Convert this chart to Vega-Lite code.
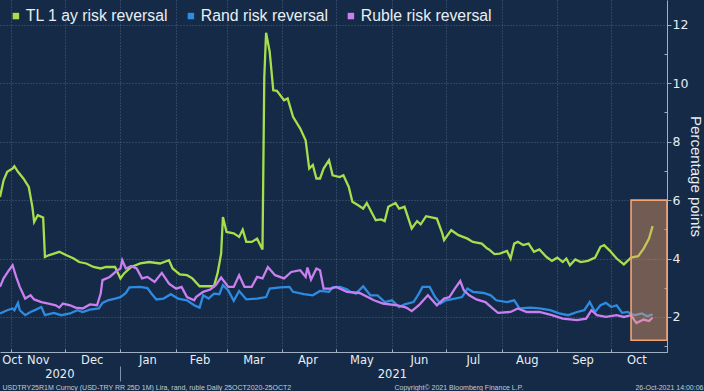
{
  "$schema": "https://vega.github.io/schema/vega-lite/v6.json",
  "width": 667,
  "height": 352,
  "autosize": {"type": "none"},
  "padding": {"left": 0, "top": 0, "right": 37, "bottom": 39},
  "background": "#142a46",
  "config": {"view": {"stroke": null}, "font": "Liberation Sans"},
  "datasets": {
    "tl": [
      {"date": "2020-10-26", "value": 6.11}, {"date": "2020-10-28", "value": 6.68}, {"date": "2020-10-30", "value": 6.97},
      {"date": "2020-11-02", "value": 7.08}, {"date": "2020-11-03", "value": 7.16}, {"date": "2020-11-05", "value": 6.97},
      {"date": "2020-11-08", "value": 6.74}, {"date": "2020-11-11", "value": 6.45}, {"date": "2020-11-13", "value": 5.77},
      {"date": "2020-11-14", "value": 5.25}, {"date": "2020-11-16", "value": 5.48}, {"date": "2020-11-19", "value": 5.40},
      {"date": "2020-11-20", "value": 4.05}, {"date": "2020-11-22", "value": 4.11}, {"date": "2020-11-25", "value": 4.17},
      {"date": "2020-11-28", "value": 4.23}, {"date": "2020-12-02", "value": 4.11}, {"date": "2020-12-06", "value": 4.00},
      {"date": "2020-12-09", "value": 3.88}, {"date": "2020-12-13", "value": 3.83}, {"date": "2020-12-17", "value": 3.71},
      {"date": "2020-12-21", "value": 3.66}, {"date": "2020-12-24", "value": 3.71}, {"date": "2020-12-29", "value": 3.71},
      {"date": "2021-01-01", "value": 3.32}, {"date": "2021-01-03", "value": 3.49}, {"date": "2021-01-07", "value": 3.71},
      {"date": "2021-01-12", "value": 3.83}, {"date": "2021-01-17", "value": 3.88}, {"date": "2021-01-23", "value": 3.83},
      {"date": "2021-01-28", "value": 3.94}, {"date": "2021-01-30", "value": 3.66}, {"date": "2021-02-03", "value": 3.46},
      {"date": "2021-02-07", "value": 3.43}, {"date": "2021-02-10", "value": 3.32}, {"date": "2021-02-14", "value": 3.05},
      {"date": "2021-02-18", "value": 3.05}, {"date": "2021-02-22", "value": 3.05}, {"date": "2021-02-24", "value": 3.49},
      {"date": "2021-02-26", "value": 4.17}, {"date": "2021-02-27", "value": 5.42}, {"date": "2021-03-01", "value": 4.91},
      {"date": "2021-03-05", "value": 4.86}, {"date": "2021-03-08", "value": 4.74}, {"date": "2021-03-10", "value": 4.99},
      {"date": "2021-03-12", "value": 4.57}, {"date": "2021-03-15", "value": 4.57}, {"date": "2021-03-18", "value": 4.68},
      {"date": "2021-03-21", "value": 4.31}, {"date": "2021-03-22", "value": 10.2}, {"date": "2021-03-23", "value": 11.73},
      {"date": "2021-03-25", "value": 11.08}, {"date": "2021-03-27", "value": 9.76}, {"date": "2021-03-29", "value": 9.74},
      {"date": "2021-04-02", "value": 9.42}, {"date": "2021-04-04", "value": 9.48}, {"date": "2021-04-07", "value": 8.85},
      {"date": "2021-04-11", "value": 8.45}, {"date": "2021-04-14", "value": 8.05}, {"date": "2021-04-16", "value": 7.08},
      {"date": "2021-04-18", "value": 7.20}, {"date": "2021-04-20", "value": 6.74}, {"date": "2021-04-22", "value": 6.74},
      {"date": "2021-04-24", "value": 7.08}, {"date": "2021-04-27", "value": 7.37}, {"date": "2021-04-29", "value": 6.85},
      {"date": "2021-05-03", "value": 6.79}, {"date": "2021-05-05", "value": 6.85}, {"date": "2021-05-08", "value": 6.45},
      {"date": "2021-05-10", "value": 5.94}, {"date": "2021-05-13", "value": 5.83}, {"date": "2021-05-16", "value": 5.71},
      {"date": "2021-05-18", "value": 5.90}, {"date": "2021-05-23", "value": 5.31}, {"date": "2021-05-26", "value": 5.34},
      {"date": "2021-05-28", "value": 5.28}, {"date": "2021-05-30", "value": 5.77}, {"date": "2021-06-03", "value": 5.90},
      {"date": "2021-06-05", "value": 5.71}, {"date": "2021-06-08", "value": 5.77}, {"date": "2021-06-12", "value": 5.03},
      {"date": "2021-06-15", "value": 5.28}, {"date": "2021-06-17", "value": 5.17}, {"date": "2021-06-20", "value": 5.45},
      {"date": "2021-06-26", "value": 5.37}, {"date": "2021-06-29", "value": 4.86}, {"date": "2021-06-30", "value": 4.63},
      {"date": "2021-07-04", "value": 4.97}, {"date": "2021-07-08", "value": 4.80}, {"date": "2021-07-13", "value": 4.68},
      {"date": "2021-07-16", "value": 4.57}, {"date": "2021-07-21", "value": 4.51}, {"date": "2021-07-24", "value": 4.34},
      {"date": "2021-07-25", "value": 4.31}, {"date": "2021-07-28", "value": 4.15}, {"date": "2021-07-31", "value": 4.17},
      {"date": "2021-08-04", "value": 4.26}, {"date": "2021-08-06", "value": 4.00}, {"date": "2021-08-08", "value": 4.51},
      {"date": "2021-08-10", "value": 4.57}, {"date": "2021-08-13", "value": 4.46}, {"date": "2021-08-16", "value": 4.51},
      {"date": "2021-08-19", "value": 4.23}, {"date": "2021-08-22", "value": 4.31}, {"date": "2021-08-26", "value": 4.05},
      {"date": "2021-08-29", "value": 3.92}, {"date": "2021-09-01", "value": 4.03}, {"date": "2021-09-04", "value": 3.88},
      {"date": "2021-09-06", "value": 4.00}, {"date": "2021-09-08", "value": 3.77}, {"date": "2021-09-11", "value": 3.97},
      {"date": "2021-09-14", "value": 3.88}, {"date": "2021-09-18", "value": 3.92}, {"date": "2021-09-22", "value": 4.03},
      {"date": "2021-09-25", "value": 4.40}, {"date": "2021-09-27", "value": 4.46}, {"date": "2021-09-30", "value": 4.28},
      {"date": "2021-10-04", "value": 4.00}, {"date": "2021-10-08", "value": 3.80}, {"date": "2021-10-12", "value": 4.03},
      {"date": "2021-10-16", "value": 4.08}, {"date": "2021-10-19", "value": 4.34}, {"date": "2021-10-22", "value": 4.68},
      {"date": "2021-10-24", "value": 5.11}
    ],
    "rand": [
      {"date": "2020-10-26", "value": 2.12}, {"date": "2020-10-30", "value": 2.23}, {"date": "2020-11-02", "value": 2.29},
      {"date": "2020-11-03", "value": 2.23}, {"date": "2020-11-05", "value": 2.48}, {"date": "2020-11-06", "value": 2.23},
      {"date": "2020-11-09", "value": 2.06}, {"date": "2020-11-12", "value": 2.17}, {"date": "2020-11-15", "value": 2.25},
      {"date": "2020-11-18", "value": 2.34}, {"date": "2020-11-20", "value": 2.06}, {"date": "2020-11-25", "value": 2.14},
      {"date": "2020-11-29", "value": 2.06}, {"date": "2020-12-04", "value": 2.12}, {"date": "2020-12-08", "value": 2.23},
      {"date": "2020-12-11", "value": 2.17}, {"date": "2020-12-15", "value": 2.25}, {"date": "2020-12-20", "value": 2.29},
      {"date": "2020-12-22", "value": 2.48}, {"date": "2020-12-25", "value": 2.57}, {"date": "2020-12-29", "value": 2.63},
      {"date": "2021-01-01", "value": 2.68}, {"date": "2021-01-04", "value": 2.82}, {"date": "2021-01-06", "value": 3.01},
      {"date": "2021-01-12", "value": 3.03}, {"date": "2021-01-16", "value": 2.99}, {"date": "2021-01-18", "value": 2.82},
      {"date": "2021-01-21", "value": 2.60}, {"date": "2021-01-25", "value": 2.63}, {"date": "2021-01-29", "value": 2.78},
      {"date": "2021-02-02", "value": 2.63}, {"date": "2021-02-07", "value": 2.57}, {"date": "2021-02-11", "value": 2.40},
      {"date": "2021-02-14", "value": 2.32}, {"date": "2021-02-16", "value": 2.74}, {"date": "2021-02-19", "value": 2.63},
      {"date": "2021-02-22", "value": 2.80}, {"date": "2021-02-25", "value": 2.78}, {"date": "2021-02-27", "value": 3.09},
      {"date": "2021-03-02", "value": 2.91}, {"date": "2021-03-05", "value": 2.55}, {"date": "2021-03-08", "value": 2.89},
      {"date": "2021-03-12", "value": 2.60}, {"date": "2021-03-18", "value": 2.63}, {"date": "2021-03-23", "value": 2.68},
      {"date": "2021-03-25", "value": 2.97}, {"date": "2021-03-31", "value": 3.01}, {"date": "2021-04-05", "value": 3.03},
      {"date": "2021-04-07", "value": 2.86}, {"date": "2021-04-13", "value": 2.78}, {"date": "2021-04-18", "value": 2.74},
      {"date": "2021-04-22", "value": 2.89}, {"date": "2021-04-27", "value": 2.86}, {"date": "2021-04-29", "value": 3.01},
      {"date": "2021-05-03", "value": 3.03}, {"date": "2021-05-07", "value": 2.95}, {"date": "2021-05-09", "value": 2.86},
      {"date": "2021-05-12", "value": 2.80}, {"date": "2021-05-16", "value": 3.05}, {"date": "2021-05-20", "value": 2.74},
      {"date": "2021-05-24", "value": 2.74}, {"date": "2021-05-28", "value": 2.51}, {"date": "2021-06-01", "value": 2.57},
      {"date": "2021-06-05", "value": 2.34}, {"date": "2021-06-08", "value": 2.43}, {"date": "2021-06-13", "value": 2.51},
      {"date": "2021-06-16", "value": 2.80}, {"date": "2021-06-18", "value": 3.03}, {"date": "2021-06-22", "value": 3.03},
      {"date": "2021-06-25", "value": 2.68}, {"date": "2021-06-28", "value": 2.46}, {"date": "2021-07-01", "value": 2.57},
      {"date": "2021-07-06", "value": 2.63}, {"date": "2021-07-10", "value": 2.68}, {"date": "2021-07-13", "value": 2.97},
      {"date": "2021-07-16", "value": 2.86}, {"date": "2021-07-22", "value": 2.82}, {"date": "2021-07-26", "value": 2.74},
      {"date": "2021-07-29", "value": 2.57}, {"date": "2021-08-04", "value": 2.51}, {"date": "2021-08-08", "value": 2.57},
      {"date": "2021-08-11", "value": 2.29}, {"date": "2021-08-17", "value": 2.32}, {"date": "2021-08-22", "value": 2.29},
      {"date": "2021-08-28", "value": 2.23}, {"date": "2021-09-02", "value": 2.12}, {"date": "2021-09-07", "value": 2.06},
      {"date": "2021-09-12", "value": 2.17}, {"date": "2021-09-16", "value": 2.23}, {"date": "2021-09-19", "value": 2.51},
      {"date": "2021-09-22", "value": 2.17}, {"date": "2021-09-25", "value": 2.40}, {"date": "2021-09-28", "value": 2.48},
      {"date": "2021-10-01", "value": 2.34}, {"date": "2021-10-04", "value": 2.40}, {"date": "2021-10-07", "value": 2.14},
      {"date": "2021-10-10", "value": 2.17}, {"date": "2021-10-14", "value": 2.06}, {"date": "2021-10-18", "value": 2.12},
      {"date": "2021-10-21", "value": 2.02}, {"date": "2021-10-24", "value": 2.09}
    ],
    "ruble": [
      {"date": "2020-10-26", "value": 3.03}, {"date": "2020-10-28", "value": 3.32}, {"date": "2020-10-31", "value": 3.60},
      {"date": "2020-11-02", "value": 3.77}, {"date": "2020-11-04", "value": 3.37}, {"date": "2020-11-06", "value": 3.03},
      {"date": "2020-11-09", "value": 2.63}, {"date": "2020-11-12", "value": 2.74}, {"date": "2020-11-14", "value": 2.60},
      {"date": "2020-11-18", "value": 2.51}, {"date": "2020-11-22", "value": 2.46}, {"date": "2020-11-26", "value": 2.40},
      {"date": "2020-11-28", "value": 2.32}, {"date": "2020-11-30", "value": 2.46}, {"date": "2020-12-04", "value": 2.40},
      {"date": "2020-12-07", "value": 2.32}, {"date": "2020-12-11", "value": 2.29}, {"date": "2020-12-15", "value": 2.43},
      {"date": "2020-12-19", "value": 2.40}, {"date": "2020-12-21", "value": 2.80}, {"date": "2020-12-22", "value": 3.26},
      {"date": "2020-12-26", "value": 3.37}, {"date": "2020-12-30", "value": 3.58}, {"date": "2021-01-01", "value": 3.66},
      {"date": "2021-01-02", "value": 3.94}, {"date": "2021-01-04", "value": 3.66}, {"date": "2021-01-07", "value": 3.74},
      {"date": "2021-01-10", "value": 3.66}, {"date": "2021-01-13", "value": 3.32}, {"date": "2021-01-16", "value": 3.37},
      {"date": "2021-01-20", "value": 3.20}, {"date": "2021-01-24", "value": 3.51}, {"date": "2021-01-28", "value": 3.14},
      {"date": "2021-02-01", "value": 2.97}, {"date": "2021-02-04", "value": 3.03}, {"date": "2021-02-07", "value": 2.68},
      {"date": "2021-02-11", "value": 2.57}, {"date": "2021-02-12", "value": 2.68}, {"date": "2021-02-16", "value": 2.86},
      {"date": "2021-02-20", "value": 2.94}, {"date": "2021-02-23", "value": 3.09}, {"date": "2021-02-26", "value": 3.35},
      {"date": "2021-03-02", "value": 3.03}, {"date": "2021-03-05", "value": 3.03}, {"date": "2021-03-08", "value": 3.43},
      {"date": "2021-03-11", "value": 3.03}, {"date": "2021-03-15", "value": 3.03}, {"date": "2021-03-18", "value": 3.37},
      {"date": "2021-03-21", "value": 3.32}, {"date": "2021-03-24", "value": 3.71}, {"date": "2021-03-28", "value": 3.43},
      {"date": "2021-04-02", "value": 3.32}, {"date": "2021-04-06", "value": 3.54}, {"date": "2021-04-11", "value": 3.60},
      {"date": "2021-04-14", "value": 3.37}, {"date": "2021-04-15", "value": 3.69}, {"date": "2021-04-17", "value": 3.28},
      {"date": "2021-04-20", "value": 3.66}, {"date": "2021-04-22", "value": 3.60}, {"date": "2021-04-24", "value": 2.97},
      {"date": "2021-04-28", "value": 2.97}, {"date": "2021-05-01", "value": 3.03}, {"date": "2021-05-07", "value": 2.86},
      {"date": "2021-05-14", "value": 2.82}, {"date": "2021-05-22", "value": 2.57}, {"date": "2021-05-27", "value": 2.46},
      {"date": "2021-06-04", "value": 2.40}, {"date": "2021-06-09", "value": 2.32}, {"date": "2021-06-12", "value": 2.20},
      {"date": "2021-06-16", "value": 2.40}, {"date": "2021-06-21", "value": 2.74}, {"date": "2021-06-26", "value": 2.40},
      {"date": "2021-06-30", "value": 2.63}, {"date": "2021-07-03", "value": 2.68}, {"date": "2021-07-06", "value": 2.97},
      {"date": "2021-07-09", "value": 3.23}, {"date": "2021-07-11", "value": 2.91}, {"date": "2021-07-14", "value": 2.74},
      {"date": "2021-07-18", "value": 2.60}, {"date": "2021-07-23", "value": 2.51}, {"date": "2021-07-27", "value": 2.29},
      {"date": "2021-07-30", "value": 2.14}, {"date": "2021-08-06", "value": 2.17}, {"date": "2021-08-10", "value": 2.29},
      {"date": "2021-08-15", "value": 2.17}, {"date": "2021-08-22", "value": 2.17}, {"date": "2021-08-29", "value": 2.06},
      {"date": "2021-09-04", "value": 1.94}, {"date": "2021-09-12", "value": 1.89}, {"date": "2021-09-17", "value": 1.94},
      {"date": "2021-09-20", "value": 2.23}, {"date": "2021-09-23", "value": 2.06}, {"date": "2021-09-28", "value": 2.00},
      {"date": "2021-10-04", "value": 2.06}, {"date": "2021-10-08", "value": 2.00}, {"date": "2021-10-12", "value": 2.06},
      {"date": "2021-10-15", "value": 1.79}, {"date": "2021-10-19", "value": 1.91}, {"date": "2021-10-22", "value": 1.86},
      {"date": "2021-10-24", "value": 1.98}
    ],
    "box": [{"start": "2021-10-12", "end": "2021-11-01", "lo": 1.2, "hi": 6.0}]
  },
  "resolve": {"axis": {"x": "independent", "y": "independent"}},
  "layer": [
    {
      "data": {"name": "tl"},
      "mark": {"type": "line", "strokeWidth": 2.3},
      "encoding": {
        "x": {
          "field": "date", "type": "temporal",
          "scale": {"type": "utc", "domain": [{"year": 2020, "month": 10, "date": 26, "utc": true}, {"year": 2021, "month": 11, "date": 1, "utc": true}], "nice": false},
          "axis": {
            "orient": "bottom",
            "values": [
              {"year": 2020, "month": 11, "date": 1, "utc": true}, {"year": 2020, "month": 12, "date": 1, "utc": true},
              {"year": 2021, "month": 1, "date": 1, "utc": true}, {"year": 2021, "month": 2, "date": 1, "utc": true},
              {"year": 2021, "month": 3, "date": 1, "utc": true}, {"year": 2021, "month": 4, "date": 1, "utc": true},
              {"year": 2021, "month": 5, "date": 1, "utc": true}, {"year": 2021, "month": 6, "date": 1, "utc": true},
              {"year": 2021, "month": 7, "date": 1, "utc": true}, {"year": 2021, "month": 8, "date": 1, "utc": true},
              {"year": 2021, "month": 9, "date": 1, "utc": true}, {"year": 2021, "month": 10, "date": 1, "utc": true},
              {"year": 2021, "month": 11, "date": 1, "utc": true}
            ],
            "labels": false,
            "grid": true, "gridColor": "#6a809c", "gridDash": [1, 2], "gridOpacity": 0.65, "gridWidth": 1,
            "ticks": true, "tickSize": -3, "tickColor": "#9fb0c4",
            "domain": true, "domainColor": "#9fb0c4", "domainWidth": 1,
            "title": "USDTRY25R1M Curncy (USD-TRY RR 25D 1M) Lira, rand, ruble  Daily 25OCT2020-25OCT2",
            "titleFont": "Liberation Sans", "titleFontSize": 7, "titleFontWeight": "normal", "titleColor": "#c3ccd6",
            "titleX": 2, "titleY": 35, "titleAlign": "left", "titleBaseline": "middle"
          }
        },
        "y": {
          "field": "value", "type": "quantitative",
          "scale": {"domain": [0.8, 12.85], "nice": false, "zero": false},
          "axis": {
            "orient": "right", "values": [2, 4, 6, 8, 10, 12],
            "grid": true, "gridColor": "#6a809c", "gridDash": [1, 2], "gridOpacity": 0.65,
            "tickSize": 4, "tickColor": "#9fb0c4", "domainColor": "#9fb0c4",
            "labelColor": "#e8eef4", "labelFont": "DejaVu Sans", "labelFontSize": 12.5, "labelPadding": 1,
            "title": "Percentage points", "titleFont": "Liberation Sans", "titleFontSize": 15, "titleFontWeight": "normal",
            "titleColor": "#e8eef4", "titleAngle": 90, "titleX": 28, "titleY": 176, "titleAlign": "center", "titleBaseline": "middle"
          }
        },
        "color": {
          "datum": "TL 1 ay risk reversal", "type": "nominal",
          "scale": {"domain": ["TL 1 ay risk reversal", "Rand risk reversal", "Ruble risk reversal"], "range": ["#a6de4c", "#2d8be2", "#c97ff0"]},
          "legend": {
            "orient": "none", "legendX": 8, "legendY": 8, "direction": "horizontal", "title": null,
            "symbolType": "square", "symbolSize": 42, "symbolStrokeWidth": 0,
            "labelFont": "Liberation Sans", "labelFontSize": 15.8, "labelColor": "#e8eef4", "labelOffset": 2,
            "columnPadding": 14, "padding": 0, "labelLimit": 300,
            "encode": {"symbols": {"update": {"fill": {"scale": "color", "field": "value"}, "stroke": {"value": "transparent"}}}}
          }
        }
      }
    },
    {
      "data": {"name": "rand"},
      "mark": {"type": "line", "strokeWidth": 2.3},
      "encoding": {
        "x": {
          "field": "date", "type": "temporal",
          "scale": {"type": "utc", "domain": [{"year": 2020, "month": 10, "date": 26, "utc": true}, {"year": 2021, "month": 11, "date": 1, "utc": true}], "nice": false},
          "axis": {
            "orient": "bottom",
            "values": [
              {"year": 2020, "month": 10, "date": 27, "utc": true}, {"year": 2020, "month": 11, "date": 16, "utc": true},
              {"year": 2020, "month": 12, "date": 16, "utc": true}, {"year": 2021, "month": 1, "date": 16, "utc": true},
              {"year": 2021, "month": 2, "date": 14, "utc": true}, {"year": 2021, "month": 3, "date": 16, "utc": true},
              {"year": 2021, "month": 4, "date": 15, "utc": true}, {"year": 2021, "month": 5, "date": 15, "utc": true},
              {"year": 2021, "month": 6, "date": 16, "utc": true}, {"year": 2021, "month": 7, "date": 16, "utc": true},
              {"year": 2021, "month": 8, "date": 15, "utc": true}, {"year": 2021, "month": 9, "date": 15, "utc": true},
              {"year": 2021, "month": 10, "date": 15, "utc": true}
            ],
            "labelExpr": "utcFormat(datum.value, '%b')",
            "grid": false, "ticks": false, "tickSize": 0, "domain": false,
            "labelFlush": 12, "labelOverlap": false, "labelBound": false,
            "labelPadding": 8, "labelBaseline": "middle",
            "labelFont": "DejaVu Sans", "labelFontSize": 11.5, "labelColor": "#e8eef4",
            "title": "Copyright© 2021 Bloomberg Finance L.P.",
            "titleFont": "Liberation Sans", "titleFontSize": 7, "titleFontWeight": "normal", "titleColor": "#c3ccd6",
            "titleX": 394, "titleY": 35, "titleAlign": "left", "titleBaseline": "middle"
          }
        },
        "y": {"field": "value", "type": "quantitative", "scale": {"domain": [0.8, 12.85], "nice": false, "zero": false}, "axis": null},
        "color": {"datum": "Rand risk reversal", "type": "nominal"}
      }
    },
    {
      "data": {"name": "ruble"},
      "mark": {"type": "line", "strokeWidth": 2.3},
      "encoding": {
        "x": {
          "field": "date", "type": "temporal",
          "scale": {"type": "utc", "domain": [{"year": 2020, "month": 10, "date": 26, "utc": true}, {"year": 2021, "month": 11, "date": 1, "utc": true}], "nice": false},
          "axis": {
            "orient": "bottom", "offset": 14,
            "values": [
              {"year": 2020, "month": 11, "date": 28, "utc": true},
              {"year": 2021, "month": 1, "date": 1, "utc": true},
              {"year": 2021, "month": 6, "date": 1, "utc": true}
            ],
            "labelExpr": "utcmonth(datum.value) == 0 ? '' : utcFormat(datum.value, '%Y')",
            "grid": false, "domain": false,
            "ticks": true, "tickSize": 15, "tickColor": "#7f92aa",
            "tickOpacity": {"condition": {"test": "utcmonth(datum.value) == 0", "value": 1}, "value": 0},
            "labelOverlap": false, "labelBound": false, "labelFlush": false,
            "labelPadding": -7, "labelBaseline": "middle",
            "labelFont": "DejaVu Sans", "labelFontSize": 11.5, "labelColor": "#e8eef4",
            "title": "26-Oct-2021 14:00:06",
            "titleFont": "Liberation Sans", "titleFontSize": 7, "titleFontWeight": "normal", "titleColor": "#c3ccd6",
            "titleX": 703, "titleY": 21, "titleAlign": "right", "titleBaseline": "middle"
          }
        },
        "y": {"field": "value", "type": "quantitative", "scale": {"domain": [0.8, 12.85], "nice": false, "zero": false}, "axis": null},
        "color": {"datum": "Ruble risk reversal", "type": "nominal"}
      }
    },
    {
      "data": {"name": "box"},
      "mark": {"type": "rect", "fill": "#f3a066", "fillOpacity": 0.42, "stroke": "#f4a472", "strokeWidth": 1.6},
      "encoding": {
        "x": {
          "field": "start", "type": "temporal",
          "scale": {"type": "utc", "domain": [{"year": 2020, "month": 10, "date": 26, "utc": true}, {"year": 2021, "month": 11, "date": 1, "utc": true}], "nice": false},
          "axis": null
        },
        "x2": {"field": "end"},
        "y": {
          "field": "lo", "type": "quantitative",
          "scale": {"domain": [0.8, 12.85], "nice": false, "zero": false},
          "axis": {"orient": "right", "values": [1, 3, 5, 7, 9, 11], "labels": false, "grid": false, "domain": false, "tickSize": -3, "tickColor": "#9fb0c4", "title": null}
        },
        "y2": {"field": "hi"}
      }
    }
  ]
}
